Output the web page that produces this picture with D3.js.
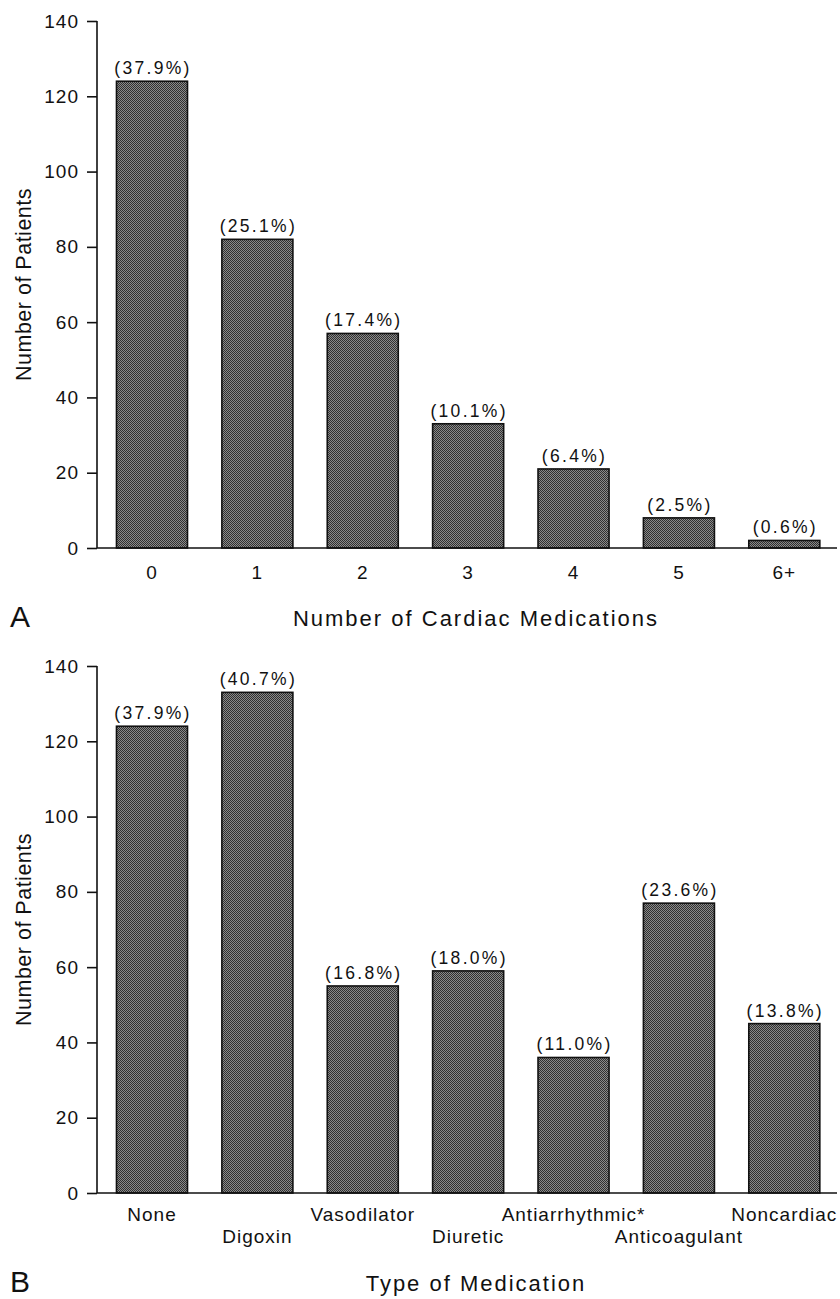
<!DOCTYPE html>
<html>
<head>
<meta charset="utf-8">
<script src="https://cdn.jsdelivr.net/npm/d3@7"></script>
<style>
  body { margin: 0; background: #fff; }
  svg text { font-family: "Liberation Sans", Arial, Helvetica, sans-serif; fill: #111; }
</style>
</head>
<body>
<script>
// panel A: number of cardiac medications
var countCats = ["0", "1", "2", "3", "4", "5", "6+"];
var countPatients = [124, 82, 57, 33, 21, 8, 2];
var countPct = ["37.9", "25.1", "17.4", "10.1", "6.4", "2.5", "0.6"];

// panel B: type of medication
var typeCats = ["None", "Digoxin", "Vasodilator", "Diuretic", "Antiarrhythmic*", "Anticoagulant", "Noncardiac"];
var typePatients = [124, 133, 55, 59, 36, 77, 45];
var typePct = ["37.9", "40.7", "16.8", "18.0", "11.0", "23.6", "13.8"];

var yTicks = [0, 20, 40, 60, 80, 100, 120, 140];

var W = 840, H = 1299;
var axisX = 97;

var svg = d3.select("body").append("svg")
    .attr("width", W).attr("height", H);

//halftone-ish fill for the bars
var pat = svg.append("defs").append("pattern")
    .attr("id", "ht").attr("width", 2).attr("height", 2)
    .attr("patternUnits", "userSpaceOnUse");
pat.append("rect").attr("width", 2).attr("height", 2).attr("fill", "#8a8a8a");
pat.append("rect").attr("width", 1).attr("height", 1).attr("fill", "#303030");
pat.append("rect").attr("x", 1).attr("y", 1).attr("width", 1).attr("height", 1).attr("fill", "#303030");

function drawPanel(cats, vals, pcts, top, bottom, letter, title, titleY, stagger) {
    var g = svg.append("g");

    var x = d3.scaleBand().domain(cats).range([99.3, 837])
        .paddingInner(0.326).paddingOuter(0.163);
    var y = d3.scaleLinear().domain([0, 140]).range([bottom, top]);

    // y axis
    var ya = g.append("g").attr("transform", "translate(" + axisX + ",0)")
        .call(d3.axisLeft(y).tickValues(yTicks).tickSize(10).tickPadding(8).tickFormat(d3.format("d")));
    ya.select(".domain").attr("d", "M0," + y(140) + "V" + y(0)).attr("stroke", "#111").attr("stroke-width", 1.6);
    ya.selectAll(".tick line").attr("stroke", "#111").attr("stroke-width", 1.6);
    ya.selectAll(".tick text").style("font-size", "19px").style("letter-spacing", "1px").attr("fill", "#111");

    // bars
    g.selectAll("rect.bar").data(vals).enter().append("rect")
        .attr("class", "bar")
        .attr("x", function(d, i) { return x(cats[i]); })
        .attr("width", x.bandwidth())
        .attr("y", function(d) { return y(d); })
        .attr("height", function(d) { return y(0) - y(d); })
        .attr("fill", "url(#ht)")
        .attr("stroke", "#111").attr("stroke-width", 1.6);

    // percentage labels
    g.selectAll("text.pct").data(pcts).enter().append("text")
        .attr("class", "pct")
        .attr("x", function(d, i) { return x(cats[i]) + x.bandwidth() / 2 + 1; })
        .attr("y", function(d, i) { return y(vals[i]) - 7; })
        .attr("text-anchor", "middle")
        .style("font-size", "17.5px").style("letter-spacing", "2.3px")
        .text(function(d) { return "(" + d + "%)"; });

    // x axis
    var xa = g.append("g").attr("transform", "translate(0," + y(0) + ")")
        .call(d3.axisBottom(x).tickSize(0).tickPadding(0));
    xa.select(".domain").attr("d", "M" + axisX + ",0H" + x.range()[1]).attr("stroke", "#111").attr("stroke-width", 1.6);
    xa.selectAll(".tick text")
        .attr("y", function(d, i) { return stagger ? (i % 2 ? 37 : 15) : 18; })
        .attr("dy", "0.71em")
        .style("font-size", "19px").style("letter-spacing", "1px").attr("fill", "#111");

    // y label
    g.append("text")
        .attr("transform", "translate(31," + (top + bottom) / 2 + ") rotate(-90)")
        .attr("text-anchor", "middle")
        .style("font-size", "21.5px").style("letter-spacing", "0.5px")
        .text("Number of Patients");

    // panel letter and title
    g.append("text").attr("x", 10).attr("y", titleY + 1)
        .style("font-size", "30px").text(letter);
    g.append("text").attr("x", 476).attr("y", titleY)
        .attr("text-anchor", "middle")
        .style("font-size", "22px").style("letter-spacing", "2px")
        .text(title);
}

drawPanel(countCats, countPatients, countPct, 21, 548, "A", "Number of Cardiac Medications", 626, false);
drawPanel(typeCats, typePatients, typePct, 666, 1193, "B", "Type of Medication", 1291, true);
</script>
</body>
</html>
